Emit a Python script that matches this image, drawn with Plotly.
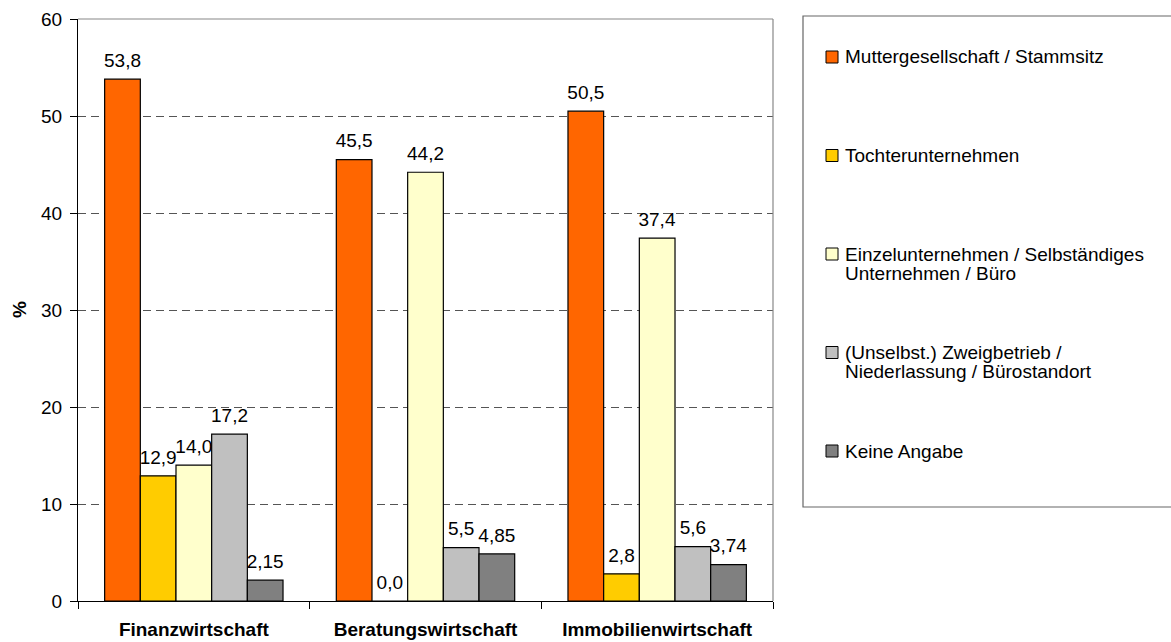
import plotly.graph_objects as go

categories = ["Finanzwirtschaft", "Beratungswirtschaft", "Immobilienwirtschaft"]
series_names = [
    "Muttergesellschaft / Stammsitz",
    "Tochterunternehmen",
    "Einzelunternehmen / Selbständiges\nUnternehmen / Büro",
    "(Unselbst.) Zweigbetrieb /\nNiederlassung / Bürostandort",
    "Keine Angabe",
]
muttergesellschaft = [53.8, 45.5, 50.5]
tochterunternehmen = [12.9, 0.0, 2.8]
einzelunternehmen = [14.0, 44.2, 37.4]
zweigbetrieb = [17.2, 5.5, 5.6]
keine_angabe = [2.15, 4.85, 3.74]
series_values = [muttergesellschaft, tochterunternehmen, einzelunternehmen, zweigbetrieb, keine_angabe]
colors = ["#FF6600", "#FFCC00", "#FFFFCC", "#C0C0C0", "#808080"]
y_ticks = [0, 10, 20, 30, 40, 50, 60]

FONT = "Liberation Sans, Arial, sans-serif"
FS = 19
W, H = 1171, 642
L, R, T, B = 78, 398, 19, 41
PW, PH = W - L - R, H - T - B
LABEL_LIFT = 0.55  # lifts value labels a bit above the bar tops (Excel-like spacing)


def fmt(v):
    s = "%.1f" % v if round(v, 1) == v else "%.2f" % v
    return s.replace(".", ",")


def px_x(px):
    return (px - L) / PW


def px_y(py):
    return (H - B - py) / PH


fig = go.Figure()
for i, (name, vals, col) in enumerate(zip(series_names, series_values, colors)):
    # invisible carrier for the label
    fig.add_trace(go.Bar(
        x=categories, y=[v + LABEL_LIFT for v in vals], offsetgroup=str(i),
        marker=dict(color="rgba(0,0,0,0)", line=dict(width=0)),
        text=[fmt(v) for v in vals], textposition="outside", constraintext="none",
        cliponaxis=False, textfont=dict(family=FONT, size=FS, color="black"),
        showlegend=False, hoverinfo="skip",
    ))
    fig.add_trace(go.Bar(
        x=categories, y=vals, offsetgroup=str(i), name=name.replace("\n", " "),
        marker=dict(color=col, line=dict(color="black", width=1.2)),
        showlegend=False,
    ))

shapes = [
    dict(type="line", xref="paper", yref="paper", x0=0, x1=1, y0=1, y1=1,
         line=dict(color="#888888", width=1.2)),
    dict(type="line", xref="paper", yref="paper", x0=1, x1=1, y0=0, y1=1,
         line=dict(color="#888888", width=1.2)),
    dict(type="rect", xref="paper", yref="paper", x0=px_x(803), x1=px_x(1175),
         y0=px_y(507), y1=px_y(16), line=dict(color="#666666", width=1.2),
         fillcolor="rgba(0,0,0,0)"),
]
annotations = [
    dict(text="<b>%</b>", xref="paper", yref="paper", x=px_x(19), y=px_y(310),
         xanchor="center", yanchor="middle",
         showarrow=False, textangle=-90, font=dict(family=FONT, size=FS, color="black")),
]
for i, (name, col) in enumerate(zip(series_names, colors)):
    cy = 57 + i * 98.5
    shapes.append(dict(type="rect", xref="paper", yref="paper",
                       x0=px_x(826), x1=px_x(838), y0=px_y(cy + 6), y1=px_y(cy - 6),
                       fillcolor=col, line=dict(color="black", width=1)))
    for j, line in enumerate(name.split("\n")):
        annotations.append(dict(text=line, xref="paper", yref="paper",
                                x=px_x(843), y=px_y(cy + j * 19), xanchor="left",
                                yanchor="middle", showarrow=False,
                                font=dict(family=FONT, size=FS, color="black")))

fig.update_layout(
    width=W, height=H, margin=dict(l=L, r=R, t=T, b=B),
    barmode="group", bargap=0.23, bargroupgap=0,
    paper_bgcolor="white", plot_bgcolor="white",
    font=dict(family=FONT, size=FS, color="black"),
    shapes=shapes, annotations=annotations, showlegend=False,
    xaxis=dict(type="category", tickson="boundaries", ticks="outside", ticklen=7,
               tickcolor="black", showline=True, linecolor="black", linewidth=1.2,
               tickfont=dict(family=FONT, size=FS, color="black", weight="bold"),
               ticklabelstandoff=11, showgrid=False, automargin=False),
    yaxis=dict(range=[0, 60], tickvals=y_ticks, ticks="outside", ticklen=7,
               tickcolor="black", showline=True, linecolor="black", linewidth=1.2,
               showgrid=True, gridcolor="#555555", gridwidth=1, griddash="8px,5px",
               zeroline=False, tickfont=dict(family=FONT, size=FS, color="black"),
               ticklabelstandoff=4, automargin=False),
)

fig.write_html("out.html")
